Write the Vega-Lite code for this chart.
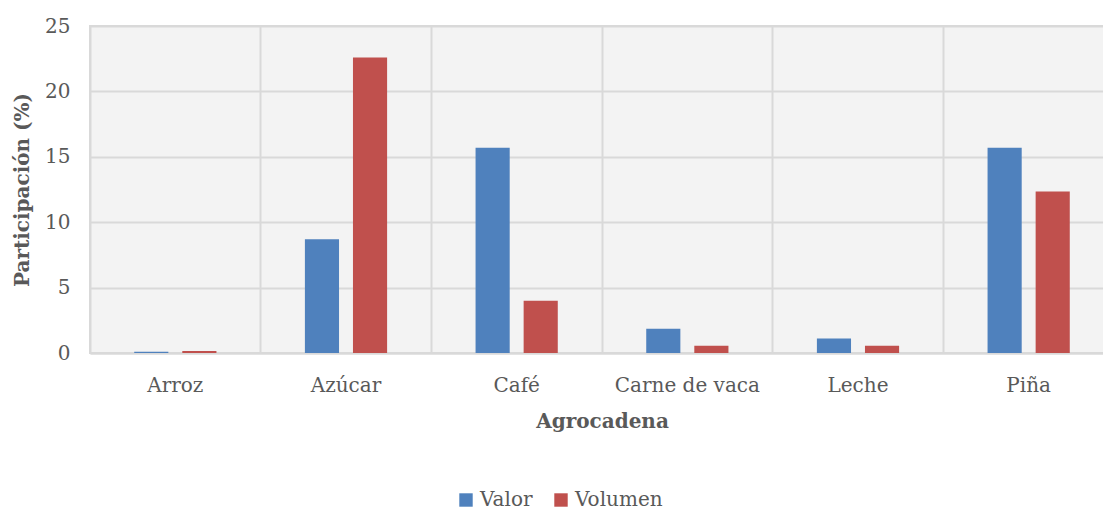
{
  "$schema": "https://vega.github.io/schema/vega-lite/v6.json",
  "autosize": "none",
  "width": 1024,
  "height": 327,
  "padding": {"left": 90, "top": 26, "right": 0, "bottom": 158},
  "background": "white",
  "config": {
    "font": "DejaVu Serif",
    "view": {"fill": "#f3f3f3", "stroke": "#d9d9d9", "strokeWidth": 2},
    "axis": {
      "labelFont": "DejaVu Serif",
      "titleFont": "DejaVu Serif",
      "labelColor": "#595959",
      "titleColor": "#595959",
      "labelFontSize": 20,
      "titleFontSize": 20,
      "titleFontWeight": "bold",
      "gridColor": "#d9d9d9",
      "gridWidth": 2,
      "ticks": false
    },
    "legend": {
      "labelFont": "DejaVu Serif",
      "labelFontSize": 20,
      "labelColor": "#595959"
    }
  },
  "data": {
    "values": [
      {"agrocadena": "Arroz", "serie": "Valor", "valor": 0.1},
      {"agrocadena": "Arroz", "serie": "Volumen", "valor": 0.15},
      {"agrocadena": "Azúcar", "serie": "Valor", "valor": 8.7},
      {"agrocadena": "Azúcar", "serie": "Volumen", "valor": 22.6},
      {"agrocadena": "Café", "serie": "Valor", "valor": 15.7},
      {"agrocadena": "Café", "serie": "Volumen", "valor": 4.0},
      {"agrocadena": "Carne de vaca", "serie": "Valor", "valor": 1.85},
      {"agrocadena": "Carne de vaca", "serie": "Volumen", "valor": 0.55},
      {"agrocadena": "Leche", "serie": "Valor", "valor": 1.1},
      {"agrocadena": "Leche", "serie": "Volumen", "valor": 0.55},
      {"agrocadena": "Piña", "serie": "Valor", "valor": 15.7},
      {"agrocadena": "Piña", "serie": "Volumen", "valor": 12.35}
    ]
  },
  "mark": {"type": "bar"},
  "encoding": {
    "x": {
      "field": "agrocadena",
      "type": "nominal",
      "sort": null,
      "scale": {"paddingInner": 0, "paddingOuter": 0},
      "axis": {
        "title": "Agrocadena",
        "labelAngle": 0,
        "labelPadding": 22,
        "titlePadding": 16,
        "grid": true,
        "bandPosition": 0,
        "domainColor": "#d9d9d9",
        "domainWidth": 2
      }
    },
    "xOffset": {
      "field": "serie",
      "type": "nominal",
      "scale": {"paddingInner": 0.29, "paddingOuter": 0.92}
    },
    "y": {
      "field": "valor",
      "type": "quantitative",
      "scale": {"domain": [0, 25]},
      "axis": {
        "title": "Participación (%)",
        "values": [0, 5, 10, 15, 20, 25],
        "domain": false,
        "labelPadding": 20,
        "titlePadding": 12
      }
    },
    "color": {
      "field": "serie",
      "type": "nominal",
      "scale": {"domain": ["Valor", "Volumen"], "range": ["#4f81bd", "#c0504d"]},
      "legend": {
        "title": null,
        "orient": "none",
        "direction": "horizontal",
        "legendX": 366,
        "legendY": 464,
        "symbolType": "square",
        "symbolSize": 180,
        "symbolStrokeWidth": 0,
        "columnPadding": 18
      }
    }
  }
}
